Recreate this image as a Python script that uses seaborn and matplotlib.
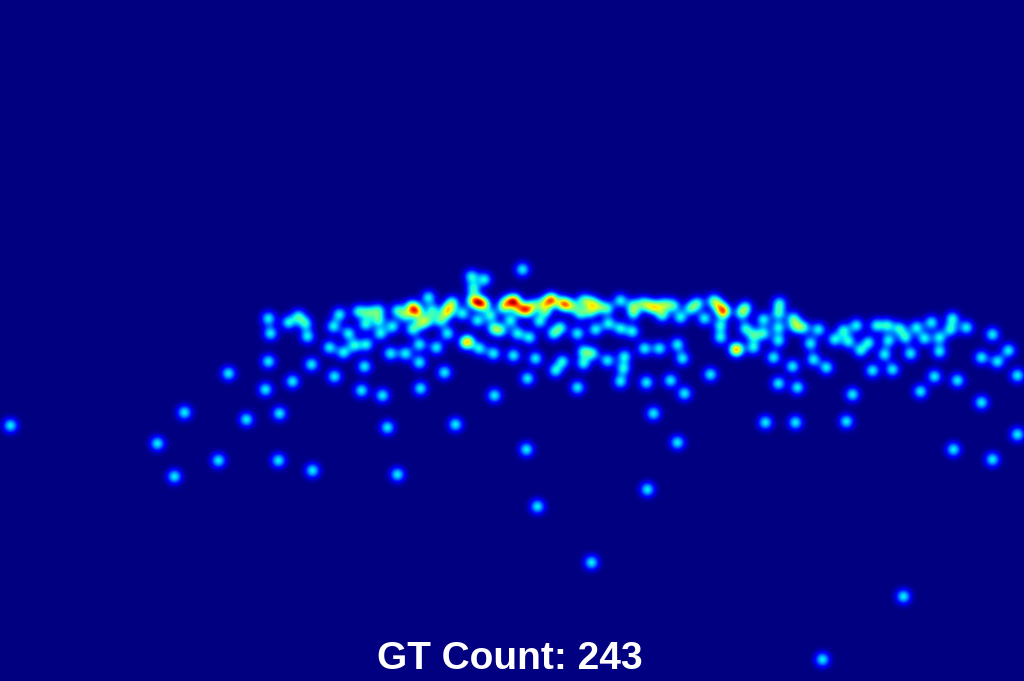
import numpy as np
import matplotlib
matplotlib.use('Agg')
import matplotlib.pyplot as plt
import seaborn as sns

width = 1024
height = 681
gt_label = "GT Count: 243"

# head positions, left part of the crowd
left_x = [268, 270, 288, 298, 305, 307, 268, 311, 292, 265, 339, 333, 348, 329, 343, 354, 366, 364, 334, 361, 382,
          358, 368, 365, 378, 378, 380, 392, 390, 405, 419, 436, 419, 444, 420, 397, 405, 411, 414, 417, 428, 432,
          427, 420, 412, 440, 447, 448, 446, 452, 462, 465, 468, 471, 484, 473, 472, 476, 480, 484, 477, 490, 493,
          500, 479, 493, 494, 503]
left_y = [318, 333, 322, 316, 323, 336, 361, 364, 381, 389, 314, 326, 333, 347, 352, 345, 344, 366, 376, 390, 395,
          311, 312, 324, 310, 320, 333, 326, 353, 353, 344, 347, 362, 372, 388, 310, 315, 306, 309, 312, 297, 310,
          320, 323, 329, 320, 333, 308, 313, 302, 313, 342, 341, 276, 279, 288, 300, 301, 303, 304, 320, 315, 328,
          330, 348, 353, 395, 307]

# middle part
mid_x = [513, 514, 506, 524, 527, 533, 543, 551, 551, 563, 564, 580, 583, 591, 598, 607, 620,
         633, 633, 643, 650, 656, 664, 673, 662, 680, 690, 697, 713, 718, 723, 723, 704, 720,
         720, 745, 741, 745, 753, 753, 735, 737, 529, 539, 553, 560, 577, 595, 608, 620, 632, 510, 513, 517,
         535, 562, 555, 583, 583, 592, 607, 624, 623, 527, 577, 620, 646, 670, 684, 710, 644, 659, 677, 682,
         518, 572, 590, 545]
mid_y = [300, 301, 302, 309, 310, 305, 303, 299, 300, 303, 304, 313, 300, 302, 306, 308, 300,
         305, 313, 303, 306, 307, 304, 305, 315, 317, 308, 303, 300, 305, 310, 312, 318, 325,
         337, 307, 313, 328, 335, 347, 349, 349, 337, 321, 333, 327, 333, 329, 323, 328, 331, 320, 355, 333,
         358, 361, 370, 363, 351, 353, 360, 356, 368, 378, 387, 381, 382, 380, 393, 374, 348, 348, 344, 358,
         308, 306, 311, 311]

# right part
right_x = [779, 778, 763, 763, 778, 778, 793, 795, 803, 818, 810, 773, 792, 813, 826, 778, 797, 852, 834,
           843, 848, 856, 868, 860, 872, 884, 892, 888, 876, 887, 899, 905, 916, 910, 931, 924, 939, 939, 950,
           952, 966, 934, 920, 957, 992, 981, 997, 1008, 1017, 981, 765, 795, 846]
right_y = [303, 313, 319, 333, 327, 340, 318, 326, 327, 329, 343, 357, 366, 359, 367, 383, 387, 394, 339,
           330, 341, 325, 342, 350, 370, 354, 369, 340, 325, 325, 328, 337, 327, 353, 322, 338, 337, 351, 329,
           318, 327, 376, 391, 380, 334, 357, 361, 350, 375, 402, 422, 422, 421]

# stragglers below and around the crowd
far_x = [228, 10, 184, 157, 246, 279, 218, 174, 278, 312, 397, 387, 455, 526, 537, 591, 647, 653, 677, 903, 822,
         953, 992, 1017, 522]
far_y = [373, 425, 412, 443, 419, 413, 460, 476, 460, 470, 474, 427, 424, 449, 506, 562, 489, 413, 442, 596, 659,
         449, 459, 434, 269]

point_x = np.array(left_x + mid_x + right_x + far_x)
point_y = np.array(left_y + mid_y + right_y + far_y)

# density map: one gaussian per head
sigma = 5.0
xs = np.arange(width)
ys = np.arange(height)
density = np.zeros((height, width))
for px, py in zip(point_x, point_y):
    gx = np.exp(-(xs - px) ** 2 / (2 * sigma ** 2))
    gy = np.exp(-(ys - py) ** 2 / (2 * sigma ** 2))
    density += np.outer(gy, gx)

fig = plt.figure(figsize=(width / 100, height / 100), dpi=100)
ax = fig.add_axes([0, 0, 1, 1])
sns.heatmap(density, ax=ax, cmap='jet', vmin=0, vmax=2.8, cbar=False,
            xticklabels=False, yticklabels=False, antialiased=False, linewidths=0)
ax.set_xlabel("")
ax.set_ylabel("")

ax.text(510, 659, gt_label, color='white', fontsize=28, fontweight='bold',
        family='Liberation Sans', ha='center', va='center')

fig.savefig('out.png', dpi=100)
